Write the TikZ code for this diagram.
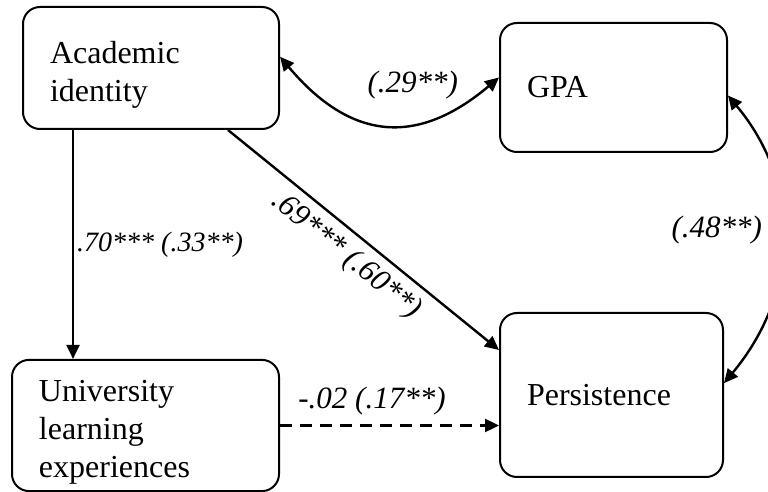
\documentclass[tikz,border=0pt]{standalone}
\usepackage{fontspec}
\setmainfont{Liberation Serif}
\usetikzlibrary{arrows.meta,positioning,calc}

\begin{document}
\begin{tikzpicture}[x=0.5pt, y=-0.5pt, font=\fontsize{16}{19}\selectfont, >={Triangle[length=7pt,width=6.5pt]}]
\tikzset{box/.style={draw, line width=1pt, rounded corners=8.5pt, align=left, inner xsep=13.5pt, minimum height=64.5pt}, coef/.style={font=\fontsize{15.5}{18}\selectfont\itshape, inner sep=1.5pt}, link/.style={->, line width=1.2pt}}
\useasboundingbox (0,0) rectangle (768,492);
\node[box, text width=101pt, minimum height=61pt, text height=17.5pt] (a) at (151,68) {Academic\\identity};
\node[box, text width=86.5pt] (g) at (613.5,87.5) {GPA};
\node[box, text width=106.5pt, text height=17.5pt] (u) at (145.5,425.5) {University\\learning\\experiences};
\node[box, text width=84.5pt, minimum height=82pt] (p) at (611.5,395) {Persistence};
\draw[link] ([xshift=25.5pt]a.south west) -- node[coef, right, font=\fontsize{14}{17}\selectfont\itshape]{.70*** (.33**)} ([xshift=25.5pt]a.south west |- u.north);
\draw[link] ([xshift=-26pt]a.south east) -- node[coef, below=2.5pt, sloped, pos=.49]{.69*** (.60**)} ([yshift=22.5pt]p.west);
\draw[link, dash pattern=on 6pt off 4pt] (u.east) -- node[coef, above=3pt, pos=.42]{-.02 (.17**)} (u.east -| p.west);
\draw[link, <->] (a.5) .. controls +(70,83) and +(-83,70) .. node[coef, above=10pt, pos=.63]{(.29**)} (g.175);
\draw[link, <->] (g.-4) .. controls +(75,90) and +(75,-90) .. node[coef, left=8pt, pos=.47]{(.48**)} (p.6);
\end{tikzpicture}
\end{document}
